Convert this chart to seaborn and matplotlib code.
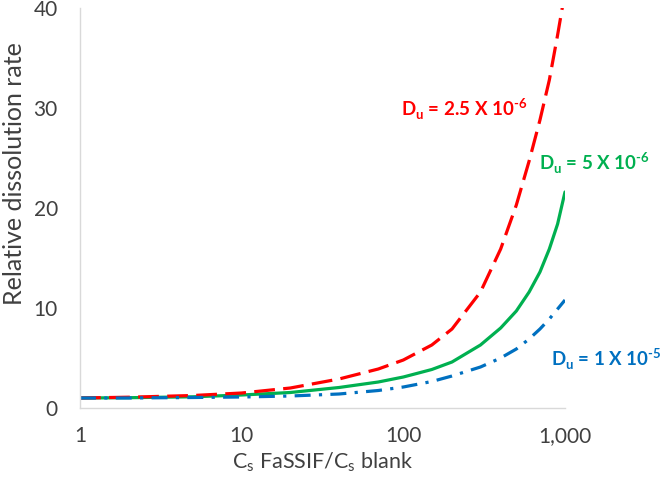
import matplotlib
matplotlib.use("Agg")
import matplotlib.pyplot as plt
import matplotlib.ticker as mticker
import pandas as pd
import seaborn as sns

# values
cs_ratio = [1, 2, 5, 10, 20, 40, 70, 100, 150, 200, 300, 400, 500, 600, 700, 800, 900, 1000]
rate_du_2p5e6 = [1.0, 1.08, 1.25, 1.5, 2.0, 2.9, 3.9, 4.8, 6.3, 7.9, 11.6, 15.9,
                 20.3, 24.7, 28.8, 32.8, 37.3, 41.6]
rate_du_5e6 = [1.0, 1.03, 1.12, 1.3, 1.55, 2.05, 2.6, 3.1, 3.85, 4.6, 6.3, 8.0,
               9.7, 11.6, 13.6, 15.9, 18.4, 21.6]
rate_du_1e5 = [1.0, 1.0, 1.05, 1.1, 1.2, 1.4, 1.75, 2.1, 2.65, 3.2, 4.1, 5.0,
               5.9, 6.9, 7.9, 8.9, 9.9, 10.8]

y_ticks = [0, 10, 20, 30, 40]
x_ticks = [1, 10, 100, 1000]
x_tick_labels = ["1", "10", "100", "1,000"]

RED = "#ff0000"
GREEN = "#00b050"
BLUE = "#0070c0"
TEXT = "#404040"

sns.set_theme(style="white")
plt.rcParams["font.family"] = ["Lato", "DejaVu Sans"]
plt.rcParams["mathtext.fontset"] = "custom"
plt.rcParams["mathtext.rm"] = "Lato:bold"
plt.rcParams["mathtext.sf"] = "Lato"

n = len(cs_ratio)
df = pd.DataFrame({
    "x": cs_ratio * 3,
    "y": rate_du_5e6 + rate_du_2p5e6 + rate_du_1e5,
    "series": ["5e-6"] * n + ["2.5e-6"] * n + ["1e-5"] * n,
})

W, H = 664, 484
fig = plt.figure(figsize=(W / 100, H / 100), dpi=100)
ax = fig.add_axes([80 / W, 1 - 408 / H, 485 / W, 400 / H])

styles = {
    "5e-6": dict(color=GREEN, linestyle="-"),
    "2.5e-6": dict(color=RED, linestyle=(0, (6.5, 2.6))),
    "1e-5": dict(color=BLUE, linestyle=(0, (5, 2.6, 1, 2.6))),
}
for name, style in styles.items():
    sns.lineplot(data=df[df["series"] == name], x="x", y="y", ax=ax,
                 linewidth=2.3, errorbar=None, **style)

ax.set_xscale("log")
ax.set_xlim(1, 1000)
ax.set_ylim(0, 40)
ax.set_xticks(x_ticks)
ax.xaxis.set_major_formatter(mticker.FixedFormatter(x_tick_labels))
ax.xaxis.set_minor_locator(mticker.NullLocator())
ax.set_yticks(y_ticks)
ax.tick_params(axis="both", length=0, labelsize=15, labelcolor=TEXT)
ax.tick_params(axis="x", pad=13)
ax.tick_params(axis="y", pad=16)

for side in ["top", "right"]:
    ax.spines[side].set_visible(False)
for side in ["left", "bottom"]:
    ax.spines[side].set_color("#d9d9d9")
    ax.spines[side].set_linewidth(1.0)

ax.set_xlabel(r"C$_\mathsf{s}$ FaSSIF/C$_\mathsf{s}$ blank", fontsize=15.5, color=TEXT)
ax.xaxis.set_label_coords(0.5, -0.105)
ax.set_ylabel("Relative dissolution rate", fontsize=18, color=TEXT)
ax.yaxis.set_label_coords(-0.112, 0.586)

labels = [
    (401, 117, r"D$_\mathrm{u}$ = 2.5 X 10$^{\text{-6}}$", RED),
    (539, 170, r"D$_\mathrm{u}$ = 5 X 10$^{\text{-6}}$", GREEN),
    (551, 367, r"D$_\mathrm{u}$ = 1 X 10$^{\text{-5}}$", BLUE),
]
for px, py, s, c in labels:
    fig.text(px / W, 1 - py / H, s, color=c, fontsize=13.5, fontweight="bold",
             va="baseline", ha="left")

fig.savefig("out.png", dpi=100)
plt.close(fig)
